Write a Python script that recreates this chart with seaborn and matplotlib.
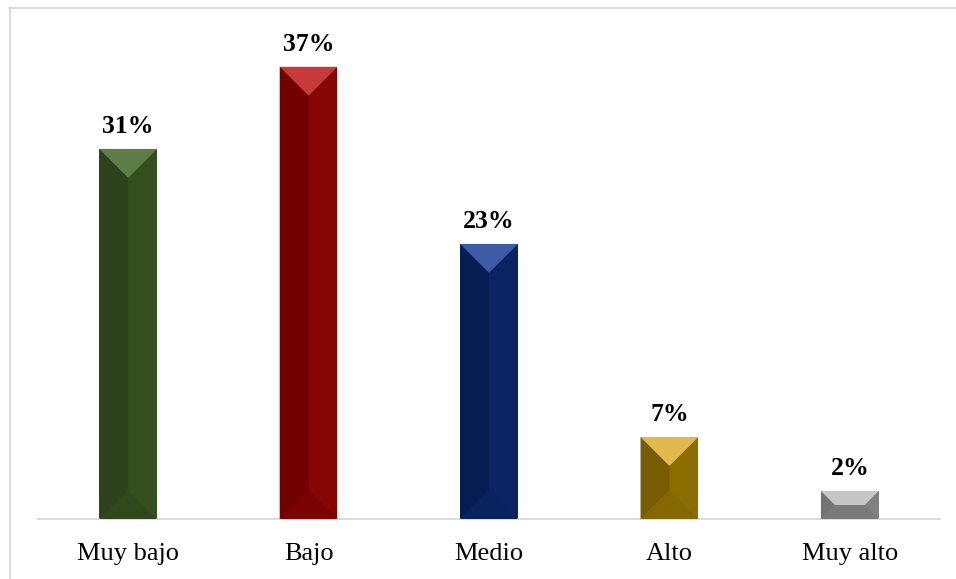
import numpy as np
import pandas as pd
import matplotlib
matplotlib.use("Agg")
import matplotlib.pyplot as plt
from matplotlib.patches import Polygon
from matplotlib.lines import Line2D
import seaborn as sns

# data (percent)
categories = ["Muy bajo", "Bajo", "Medio", "Alto", "Muy alto"]
values = [30.65, 37.45, 22.78, 6.79, 2.32]
labels = ["31%", "37%", "23%", "7%", "2%"]

bar_colors = ["#34501f", "#860505", "#0b2463", "#8c6d00", "#808080"]
# left side, top bevel, bottom bevel
left_colors = ["#2b421a", "#730000", "#061c52", "#775c00", "#737373"]
top_colors = ["#5f7d49", "#c73a3a", "#3d5ca6", "#e2b94c", "#c6c6c6"]
bottom_colors = ["#2f491c", "#7a0202", "#092260", "#856700", "#7a7a7a"]

df = pd.DataFrame({"cat": categories, "val": values})

sns.set_style("white")
plt.rcParams["font.family"] = ["Liberation Serif", "DejaVu Serif"]

W, H = 956, 579
fig = plt.figure(figsize=(W / 100, H / 100), dpi=100)
ax = fig.add_axes([38 / W, 60 / H, 902 / W, 483 / H])

sns.barplot(data=df, x="cat", y="val", hue="cat", palette=bar_colors,
            legend=False, width=0.32, ax=ax, saturation=1)
ax.set_ylim(0, 40)
ax.set_xlim(-0.5, len(categories) - 0.5)

# bevel effect drawn over each bar
inv = ax.transData.inverted()
for i, p in enumerate(ax.patches):
    x0, y0 = p.get_x(), p.get_y()
    x1, y1 = x0 + p.get_width(), y0 + p.get_height()
    (px0, py0), (px1, py1) = ax.transData.transform([(x0, y0), (x1, y1)])
    d = min((px1 - px0) / 2, (py1 - py0) / 2)

    def poly(pts, color):
        pts = inv.transform(pts)
        ax.add_patch(Polygon(pts, closed=True, facecolor=color,
                             edgecolor="none", zorder=3))

    poly([(px0, py0), (px0, py1), (px0 + d, py1 - d), (px0 + d, py0 + d)], left_colors[i])
    poly([(px0, py0), (px1, py0), (px1 - d, py0 + d), (px0 + d, py0 + d)], bottom_colors[i])
    poly([(px0, py1), (px1, py1), (px1 - d, py1 - d), (px0 + d, py1 - d)], top_colors[i])
    p.set_edgecolor("none")

    ax.annotate(labels[i], (x0 + p.get_width() / 2, y1), xytext=(0, 11.5),
                textcoords="offset points", ha="center", va="baseline",
                fontsize=18.5, fontweight="bold", color="black", zorder=4)

sns.despine(ax=ax, left=True, top=True, right=True)
ax.spines["bottom"].set_color("#d9d9d9")
ax.spines["bottom"].set_linewidth(1.3)
ax.set_yticks([])
ax.set_xlabel("")
ax.set_ylabel("")
ax.tick_params(axis="x", length=0, pad=17, labelsize=19, colors="black")

# chart border (only left and top edges fall inside the picture)
fig.add_artist(Line2D([9.5 / W, 9.5 / W], [0, 1 - 7 / H], color="#d9d9d9",
                      lw=1.3, transform=fig.transFigure))
fig.add_artist(Line2D([9 / W, 1], [1 - 7.5 / H, 1 - 7.5 / H], color="#d9d9d9",
                      lw=1.3, transform=fig.transFigure))

fig.savefig("out.png", dpi=100, facecolor="white")
plt.close(fig)
